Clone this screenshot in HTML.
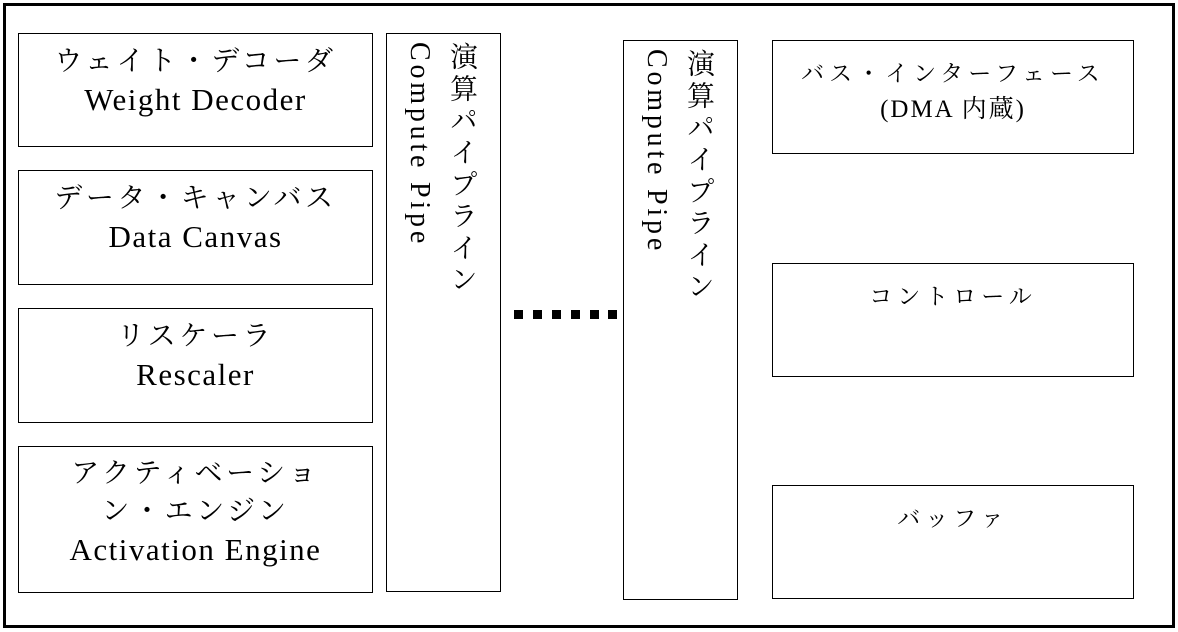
<!DOCTYPE html>
<html><head><meta charset="utf-8"><style>
body{margin:0;width:1178px;height:632px;background:#fff;position:relative;overflow:hidden;font-family:"Liberation Serif","Noto Serif CJK SC",serif;color:#000}
.outer{position:absolute;left:3px;top:3px;width:1166px;height:619px;border:3px solid #000}
.b{position:absolute;border:1.5px solid #000;box-sizing:border-box;text-align:center}
.l{font-size:28px;line-height:38px;padding-top:9px;letter-spacing:3.6px}
.l span{font-size:31px;letter-spacing:1.5px}
.r{font-size:23px;line-height:36px;padding-top:15px;letter-spacing:5px}
.r span{font-size:25px;letter-spacing:2px}
.v{writing-mode:vertical-rl;font-size:28px;line-height:42px;padding-top:8px;text-align:left;padding-right:18px;letter-spacing:3.8px}
.d{position:absolute;top:310px;width:9px;height:9px;background:#000}
</style></head><body>
<div class="outer"></div>
<div class="b l" style="left:18px;top:33px;width:355px;height:114px">ウェイト・デコーダ<br><span>Weight Decoder</span></div>
<div class="b l" style="left:18px;top:170px;width:355px;height:115px">データ・キャンバス<br><span>Data Canvas</span></div>
<div class="b l" style="left:18px;top:308px;width:355px;height:115px">リスケーラ<br><span>Rescaler</span></div>
<div class="b l" style="left:18px;top:446px;width:355px;height:147px;padding-top:8px">アクティベーショ<br>ン・エンジン<br><span>Activation Engine</span></div>
<div class="b v" style="left:386px;top:33px;width:115px;height:559px">演算パイプライン<br>Compute Pipe</div>
<div class="b v" style="left:623px;top:40px;width:115px;height:560px">演算パイプライン<br>Compute Pipe</div>
<div class="d" style="left:514px"></div><div class="d" style="left:533px"></div><div class="d" style="left:552px"></div><div class="d" style="left:571px"></div><div class="d" style="left:590px"></div><div class="d" style="left:608px"></div>
<div class="b r" style="left:772px;top:40px;width:362px;height:114px">バス・インターフェース<br><span>(DMA 内蔵)</span></div>
<div class="b r" style="left:772px;top:263px;width:362px;height:114px">コントロール</div>
<div class="b r" style="left:772px;top:485px;width:362px;height:114px">バッファ</div>
</body></html>
